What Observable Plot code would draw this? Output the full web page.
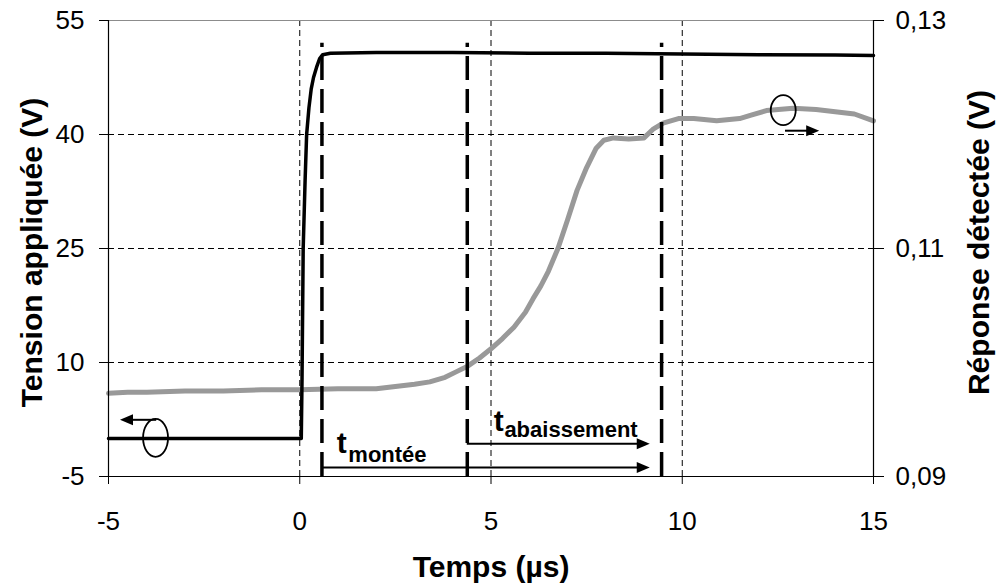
<!DOCTYPE html>
<html>
<head>
<meta charset="utf-8">
<script src="https://cdn.jsdelivr.net/npm/d3@7"></script>
<script src="https://cdn.jsdelivr.net/npm/@observablehq/plot@0.6"></script>
<style>
  html, body { margin: 0; padding: 0; background: #fff; }
</style>
</head>
<body>
<div id="chart"></div>
<script>
// ---- data ----
const xTicks = [-5, 0, 5, 10, 15];
const yLeftTicks = [-5, 10, 25, 40, 55];
const yRightTicks = [0.09, 0.11, 0.13];
const gridX = [0, 5, 10];
const gridY = [10, 25, 40];

// applied voltage (left axis, V)
const timeBlack    = [-5, -2, 0.04, 0.06, 0.09, 0.14, 0.18, 0.24, 0.30, 0.36, 0.45, 0.52, 0.60, 0.80, 2, 4, 6, 8, 10, 12, 14, 15];
const tensionBlack = [0, 0, 0, 8, 25, 34, 40, 43.5, 46, 47.5, 49, 50, 50.5, 50.7, 50.8, 50.8, 50.7, 50.7, 50.6, 50.5, 50.45, 50.4];

// detected response (right axis, V)
const timeGray    = [-5, -4.5, -4, -3, -2, -1, 0, 1, 2, 2.5, 3, 3.4, 3.8, 4.1, 4.4, 4.7, 5.0, 5.3, 5.6, 5.9, 6.1, 6.3, 6.5, 6.75, 7.0, 7.25, 7.5, 7.75, 7.95, 8.2, 8.6, 9.0, 9.25, 9.5, 9.9, 10.3, 10.9, 11.5, 11.8, 12.2, 12.9, 13.5, 14.0, 14.5, 15.0];
const reponseGray = [0.0973, 0.0974, 0.0974, 0.0975, 0.0975, 0.0976, 0.0976, 0.0977, 0.0977, 0.0979, 0.0981, 0.0983, 0.0987, 0.0992, 0.0997, 0.1004, 0.1012, 0.1021, 0.1031, 0.1044, 0.1056, 0.1067, 0.1080, 0.1100, 0.1125, 0.1151, 0.1171, 0.1188, 0.1195, 0.1197, 0.1196, 0.1197, 0.1205, 0.1210, 0.1214, 0.1214, 0.1212, 0.1214, 0.1217, 0.1221, 0.1223, 0.1222, 0.1220, 0.1218, 0.1212];

// annotation data
const markerTimes = [0.58, 4.38, 9.46];
const markerTop = 52;
const arrowFrom  = [-3.74, 12.70, 0.58, 4.38];
const arrowTo    = [-4.70, 13.58, 9.15, 9.15];
const arrowLevel = [2.46, 40.5, -3.82, -0.70];
const ellipseX = [-3.77, 12.64];
const ellipseY = [0.09, 43.2];
const labelMain = ["t", "t"];
const labelSub  = ["montée", "abaissement"];
const labelMainX = [0.97, 5.07];
const labelMainY = [-1.97, 1.05];
const labelSubX  = [1.27, 5.35];
const labelSubY  = [-3.12, 0.17];

// ---- helpers ----
const yMin = -5, yMax = 55, rMin = 0.09, rMax = 0.13;
const toLeft = r => yMin + (r - rMin) / (rMax - rMin) * (yMax - yMin);
const fromLeft = v => rMin + (v - yMin) / (yMax - yMin) * (rMax - rMin);
const fr = v => v.toFixed(2).replace(".", ",");

const black = timeBlack.map((t, i) => ({t, v: tensionBlack[i]}));
const gray = timeGray.map((t, i) => ({t, v: toLeft(reponseGray[i])}));
const arrows = arrowFrom.map((a, i) => ({x1: a, x2: arrowTo[i], y: arrowLevel[i], dir: arrowTo[i] > a ? 1 : -1}));
const ellipses = ellipseX.map((x, i) => ({x, y: ellipseY[i], i}));

function ellipseSymbol(rx, ry) {
  const k = 0.5523;
  return {draw(ctx) {
    ctx.moveTo(rx, 0);
    ctx.bezierCurveTo(rx, ry * k, rx * k, ry, 0, ry);
    ctx.bezierCurveTo(-rx * k, ry, -rx, ry * k, -rx, 0);
    ctx.bezierCurveTo(-rx, -ry * k, -rx * k, -ry, 0, -ry);
    ctx.bezierCurveTo(rx * k, -ry, rx, -ry * k, rx, 0);
    ctx.closePath();
  }};
}
const headRight = {draw(ctx) { ctx.moveTo(0, 0); ctx.lineTo(-13, -5.5); ctx.lineTo(-13, 5.5); ctx.closePath(); }};
const headLeft  = {draw(ctx) { ctx.moveTo(0, 0); ctx.lineTo(13, -5.5); ctx.lineTo(13, 5.5); ctx.closePath(); }};

const font = "'Liberation Sans', Arial, Helvetica, sans-serif";

const chart = Plot.plot({
  width: 998,
  height: 587,
  marginLeft: 108,
  marginRight: 125,
  marginTop: 20,
  marginBottom: 111,
  x: {domain: [-5, 15]},
  y: {domain: [yMin, yMax]},
  style: {fontFamily: font, fontSize: "26px", color: "black", background: "white", overflow: "visible"},
  marks: [
    // grid
    Plot.ruleX(gridX, {y1: yMin, y2: yMax, stroke: "black", strokeWidth: 1, strokeDasharray: "6,4"}),
    Plot.ruleY(gridY, {x1: -5, x2: 15, stroke: "black", strokeWidth: 1, strokeDasharray: "6,4"}),
    Plot.ruleY([yMax], {stroke: "#8c8c8c", strokeWidth: 1.2}),
    // series
    Plot.line(gray, {x: "t", y: "v", stroke: "#999999", strokeWidth: 5}),
    Plot.line(black, {x: "t", y: "v", stroke: "black", strokeWidth: 3.5}),
    // thick dashed markers
    Plot.ruleX(markerTimes, {y1: yMin, y2: markerTop, stroke: "black", strokeWidth: 3.5, strokeDasharray: "24,9"}),
    // axes frame
    Plot.ruleY([yMin], {stroke: "black", strokeWidth: 1.2}),
    Plot.ruleX([-5], {stroke: "black", strokeWidth: 1.2}),
    Plot.ruleX([15], {stroke: "black", strokeWidth: 1.2}),
    Plot.axisX(xTicks, {anchor: "bottom", tickSize: 8, tickPadding: 27, fontSize: 26, label: null, tickFormat: d => String(d)}),
    Plot.axisY(yLeftTicks, {anchor: "left", tickSize: 9, tickPadding: 15, fontSize: 26, label: null, tickFormat: d => String(d)}),
    Plot.axisY(yRightTicks.map(toLeft), {anchor: "right", tickSize: 10, tickPadding: 12, fontSize: 26, label: null, tickFormat: d => fr(fromLeft(d))}),
    // axis titles
    Plot.text(["Tension appliquée (V)"], {frameAnchor: "left", textAnchor: "middle", lineAnchor: "middle", dx: -76, dy: 4, rotate: -90, fontSize: 30, fontWeight: "bold"}),
    Plot.text(["Réponse détectée (V)"], {frameAnchor: "right", textAnchor: "middle", lineAnchor: "middle", dx: 106, dy: -6, rotate: -90, fontSize: 30, fontWeight: "bold"}),
    Plot.text(["Temps (µs)"], {frameAnchor: "bottom", textAnchor: "middle", dy: 100, lineAnchor: "bottom", fontSize: 30, fontWeight: "bold"}),
    // annotation arrows
    Plot.ruleY(arrows, {x1: "x1", x2: d => d.x2 - d.dir * 0.3, y: "y", stroke: "black", strokeWidth: 2}),
    Plot.dot(arrows.filter(d => d.dir > 0), {x: "x2", y: "y", symbol: headRight, fill: "black", stroke: "none"}),
    Plot.dot(arrows.filter(d => d.dir < 0), {x: "x2", y: "y", symbol: headLeft, fill: "black", stroke: "none"}),
    Plot.dot(ellipses.filter(d => d.i === 0), {x: "x", y: "y", symbol: ellipseSymbol(12.5, 19), fill: "none", stroke: "black", strokeWidth: 1.8}),
    Plot.dot(ellipses.filter(d => d.i === 1), {x: "x", y: "y", symbol: ellipseSymbol(12.5, 15), fill: "none", stroke: "black", strokeWidth: 1.8}),
    // t labels
    Plot.text(labelMain, {x: (d, i) => labelMainX[i], y: (d, i) => labelMainY[i], text: d => d, textAnchor: "start", lineAnchor: "bottom", fontSize: 30, fontWeight: "bold"}),
    Plot.text(labelSub, {x: (d, i) => labelSubX[i], y: (d, i) => labelSubY[i], text: d => d, textAnchor: "start", lineAnchor: "bottom", fontSize: 22, fontWeight: "bold"})
  ]
});
document.getElementById("chart").appendChild(chart);
</script>
</body>
</html>
